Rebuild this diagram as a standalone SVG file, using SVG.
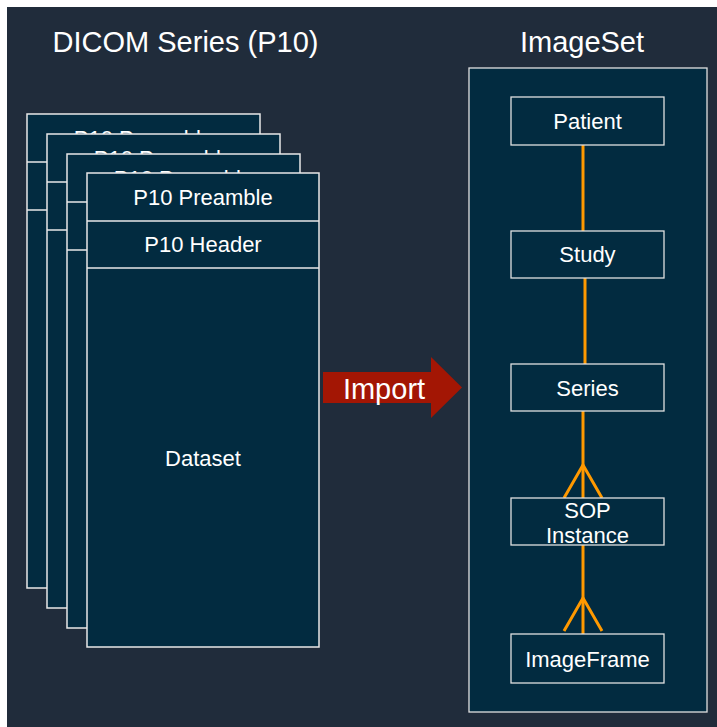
<svg xmlns="http://www.w3.org/2000/svg" width="717" height="727" viewBox="0 0 717 727">
<style>
.t{font-family:"Liberation Sans",Arial,Helvetica,sans-serif;fill:#ffffff;text-anchor:middle}
.title{font-size:29px}
.lbl{font-size:22px}
.page{fill:#022b40;stroke:#e8e8e8;stroke-width:1.5}
.box{fill:#022b40;stroke:#e0e0e0;stroke-width:1.3}
.div{stroke:#e8e8e8;stroke-width:1.3}
.conn{stroke:#ff9900;stroke-width:3;fill:none}
</style>
<rect x="0" y="0" width="717" height="727" fill="#ffffff"/>
<rect x="7" y="7" width="710" height="720" fill="#202c3b"/>
<text class="t title" x="185.5" y="52">DICOM Series (P10)</text>
<text class="t title" x="582" y="52">ImageSet</text>

<g id="page1">
<rect class="page" x="27" y="114" width="233" height="474"/>
<line class="div" x1="27" y1="162" x2="260" y2="162"/>
<line class="div" x1="27" y1="210" x2="260" y2="210"/>
<text class="t lbl" x="143.5" y="146">P10 Preamble</text>
</g>
<g id="page2">
<rect class="page" x="47" y="134" width="233" height="474"/>
<line class="div" x1="47" y1="182" x2="280" y2="182"/>
<line class="div" x1="47" y1="230" x2="280" y2="230"/>
<text class="t lbl" x="163.5" y="166">P10 Preamble</text>
</g>
<g id="page3">
<rect class="page" x="67" y="154" width="233" height="474"/>
<line class="div" x1="67" y1="202" x2="300" y2="202"/>
<line class="div" x1="67" y1="250" x2="300" y2="250"/>
<text class="t lbl" x="183.5" y="186">P10 Preamble</text>
</g>
<g id="page4">
<rect class="page" x="87" y="173" width="232" height="474"/>
<line class="div" x1="87" y1="221" x2="319" y2="221"/>
<line class="div" x1="87" y1="268" x2="319" y2="268"/>
<text class="t lbl" x="203" y="205">P10 Preamble</text>
<text class="t lbl" x="203" y="252">P10 Header</text>
<text class="t lbl" x="203" y="466">Dataset</text>
</g>

<g id="import">
<polygon points="323,372 431,372 431,357 462,387.5 431,418 431,403 323,403" fill="#a31604"/>
<text class="t" x="384" y="399" style="font-size:29px">Import</text>
</g>

<g id="imageset">
<rect x="469" y="68" width="238" height="644" fill="#022b40" stroke="#e0e0e0" stroke-width="1.3"/>
</g>

<g id="connectors">
<line class="conn" x1="583" y1="145" x2="583" y2="231"/>
<line class="conn" x1="585" y1="278" x2="585" y2="364"/>
<line class="conn" x1="583" y1="411" x2="583" y2="498"/>
<polyline class="conn" points="564,498 583,465 602,498"/>
<line class="conn" x1="583" y1="545" x2="583" y2="634"/>
<polyline class="conn" points="564,631 583,598 602,631"/>
</g>

<g id="patient">
<rect class="box" x="511" y="97" width="153" height="48"/>
<text class="t lbl" x="587.5" y="129">Patient</text>
</g>
<g id="study">
<rect class="box" x="511" y="231" width="153" height="47"/>
<text class="t lbl" x="587.5" y="262">Study</text>
</g>
<g id="series">
<rect class="box" x="511" y="364" width="153" height="47"/>
<text class="t lbl" x="587.5" y="396">Series</text>
</g>
<g id="sop">
<rect class="box" x="511" y="498" width="153" height="47"/>
<text class="t lbl" x="587.5" y="518">SOP</text>
<text class="t lbl" x="587.5" y="543">Instance</text>
</g>
<g id="imageframe">
<rect class="box" x="511" y="634" width="153" height="49"/>
<text class="t lbl" x="587.5" y="667">ImageFrame</text>
</g>
</svg>
